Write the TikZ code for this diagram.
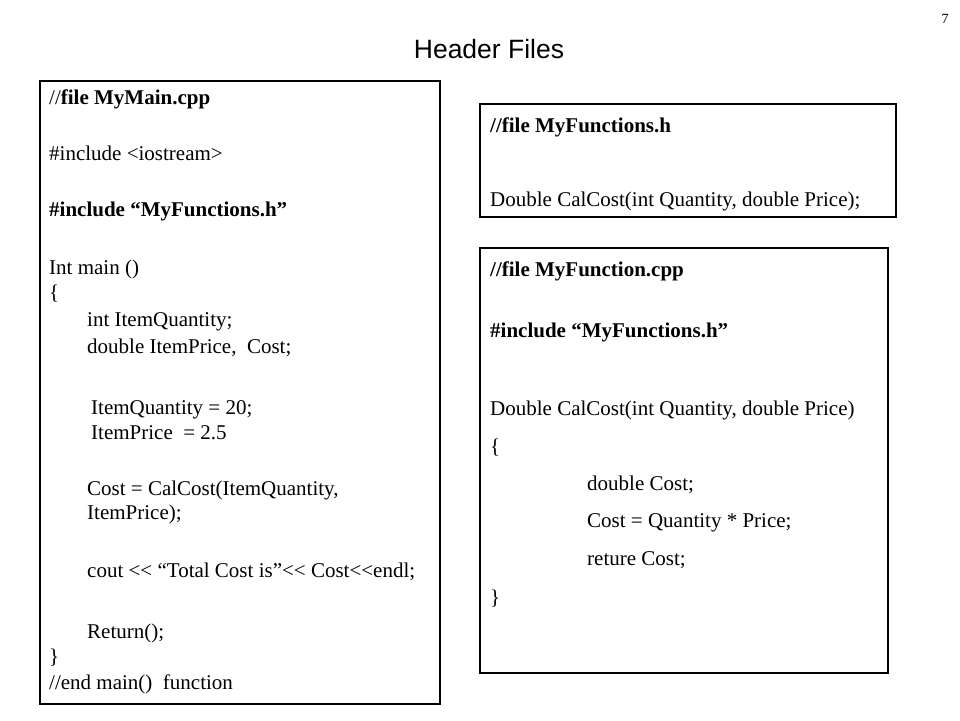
\documentclass[tikz,border=0pt]{standalone}
\usepackage{fontspec}
\setmainfont{Liberation Serif}
\newfontfamily\titlefont{Liberation Sans}
\begin{document}
\begin{tikzpicture}[x=1pt,y=-1pt,
  codebox/.style={draw=black,line width=1.4pt},
  codeline/.style={anchor=base west,inner sep=0pt,font=\fontsize{21}{25}\selectfont},
]
\useasboundingbox (0,0) rectangle (960,720);
% title and page number
\node[anchor=base,inner sep=0pt,font=\titlefont\fontsize{26.5}{30}\selectfont] (title) at (489,58) {Header Files};
\node[anchor=base,inner sep=0pt,font=\fontsize{14}{16}\selectfont] (pageno) at (945,23) {7};
% boxes
\draw[codebox] (40,81) rectangle (440,704);
\draw[codebox] (480,104) rectangle (896,217);
\draw[codebox] (480,248) rectangle (888,673);
% left box: MyMain.cpp
\node[codeline] (m1) at (49,104) {//\textbf{file MyMain.cpp}};
\node[codeline] (m2) at (49,160) {\#include <iostream>};
\node[codeline] (m3) at (49,216) {\textbf{\#include “MyFunctions.h”}};
\node[codeline] (m4) at (49,274) {Int main ()};
\node[codeline] (m5) at (49,299) {\{};
\node[codeline] (m6) at (87,326) {int ItemQuantity;};
\node[codeline] (m7) at (87,353) {double ItemPrice,\ \ Cost;};
\node[codeline] (m8) at (91,414) {ItemQuantity = 20;};
\node[codeline] (m9) at (91,439) {ItemPrice \ = 2.5};
\node[codeline] (m10) at (87,495) {Cost = CalCost(ItemQuantity,};
\node[codeline] (m11) at (87,519) {ItemPrice);};
\node[codeline] (m12) at (87,577) {cout <\kern0pt< “Total Cost is”<\kern0pt< Cost<\kern0pt<endl;};
\node[codeline] (m13) at (87,638) {Return();};
\node[codeline] (m14) at (49,663) {\}};
\node[codeline] (m15) at (49,689) {//end main()\ \ function};
% box 2: MyFunctions.h
\node[codeline] (h1) at (490,132) {\textbf{//file MyFunctions.h}};
\node[codeline] (h2) at (490,206) {Double CalCost(int Quantity, double Price);};
% box 3: MyFunction.cpp
\node[codeline] (f1) at (490,276) {\textbf{//file MyFunction.cpp}};
\node[codeline] (f2) at (490,337) {\textbf{\#include “MyFunctions.h”}};
\node[codeline] (f3) at (490,415) {Double CalCost(int Quantity, double Price)};
\node[codeline] (f4) at (490,453) {\{};
\node[codeline] (f5) at (587,490) {double Cost;};
\node[codeline] (f6) at (587,527) {Cost = Quantity * Price;};
\node[codeline] (f7) at (587,565) {reture Cost;};
\node[codeline] (f8) at (490,604) {\}};
\end{tikzpicture}
\end{document}
